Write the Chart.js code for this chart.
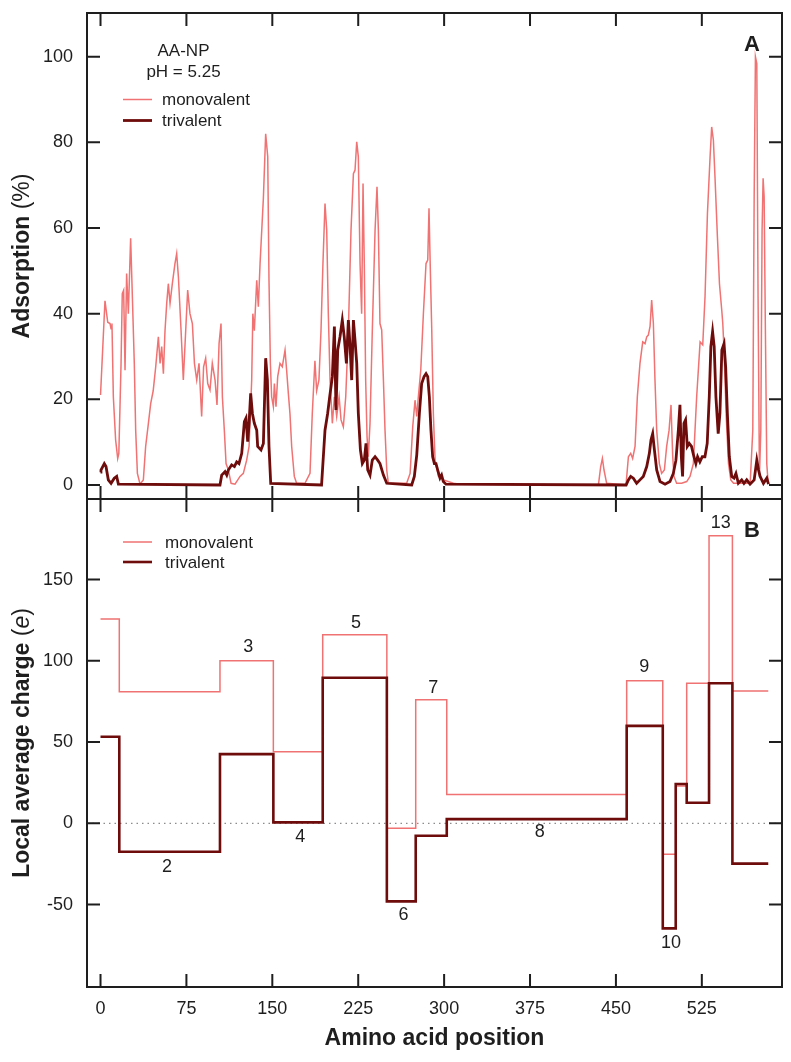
<!DOCTYPE html>
<html>
<head>
<meta charset="utf-8">
<script src="https://cdn.jsdelivr.net/npm/chart.js@4.4.1/dist/chart.umd.min.js"></script>
<style>
    html, body { margin: 0; padding: 0; background: #fff; }
    #wrap { position: relative; width: 791px; height: 1062px; }
    #wrap canvas { position: absolute; left: 0; }
    #chartA { top: 0; }
    #chartB { top: 490px; }
</style>
</head>
<body>
<div id="wrap">
    <canvas id="chartA" width="791" height="500"></canvas>
    <canvas id="chartB" width="791" height="572"></canvas>
</div>
<script>
// ----------------- Data -----------------
const xTicks = [0, 75, 150, 225, 300, 375, 450, 525];
const adsTicks = [0, 20, 40, 60, 80, 100];
const chargeTicks = [-50, 0, 50, 100, 150];

// Panel A: adsorption (%) along the sequence
const monoPos = [0, 3.9, 6.3, 8.3, 9.2, 10, 11.2, 13.2, 15, 16, 17.9, 19, 20.2, 21.4, 22.8, 24.3, 26.3, 27.8, 29.5, 30.7,
    32.2, 34.5, 37.4, 39.4, 41.8, 43.8, 46, 48.2, 50.5, 52, 53.4, 54.9, 56.3, 57.8, 59.2, 60.7, 62.7, 65, 66.5, 68,
    70.3, 72.3, 74.4, 76.1, 78.1, 80.2, 82, 84, 86, 88.3, 90, 91.8, 93.6, 95.6, 97.6, 100, 101.7, 103.5, 105.2, 106.4,
    108.1, 109.6, 111.6, 114, 117.4, 121.8, 124.7, 127.6, 129.7, 132, 133, 134.3, 136.4, 137.8, 139.3, 142.2, 144.2, 146, 147.1, 148.3,
    149.4, 150.9, 151.8, 153.2, 154.7, 156.7, 158.7, 161.1, 162.5, 164, 165.4, 166.9, 169.2, 171.2, 178.5, 182.9, 184.9, 187.2, 188.7, 190.7,
    192.5, 194.2, 196, 197.5, 198.9, 200.4, 202.4, 204.2, 206.2, 208.3, 210, 212, 214.1, 216.4, 218.7, 220.8, 222.2, 223.7, 225.1, 226.6,
    228, 229.2, 230.3, 231.5, 232.7, 233.8, 235.3, 237.3, 239.7, 241.4, 242.6, 244, 245.5, 247, 248.4, 249.9, 251.3, 267.3, 270.3, 272.6,
    274.6, 276.1, 277.5, 279.6, 281.9, 284.2, 285.7, 286.8, 287.7, 289.2, 290.6, 292.1, 295, 299.3, 308.1, 313.9, 434.7, 436.7, 438.2, 439.6,
    441.9, 458.8, 460.9, 462.9, 464.6, 466.7, 468.7, 471, 473.4, 475.4, 476.9, 478.3, 479.8, 481.2, 482.7, 484.1, 485.6, 487.9, 489.9, 492.3,
    494.3, 496.4, 498.1, 499.6, 500.7, 503, 507.4, 511.8, 514.7, 517.6, 520.5, 523.5, 525.8, 527.8, 529.9, 532.2, 533.6, 535.1, 536.6, 538.6,
    540.4, 542.4, 543.3, 544.4, 546.3, 548.3, 550.3, 552.7, 567.2, 569.5, 570.7, 571.8, 573, 574.1, 575.3, 576.5, 577.6, 578.5, 579.4, 580.5,
    581.7, 582.9];
const monoAds = [21, 43, 38, 37.7, 36.5, 37.7, 20.6, 10.5, 6.2, 7.4, 28, 44.7, 45.5, 26.8, 49.4, 40, 57.6, 44, 28.4, 12.8,
    2.7, 0.2, 1.2, 9, 14.4, 19, 22, 27.6, 34.6, 28.4, 32.3, 26, 36, 42.4, 47, 42.4, 47, 51.7, 54, 48.6,
    36.2, 24.5, 36.2, 45.5, 40, 37.7, 28.4, 24.5, 28.4, 16, 27.6, 29.6, 23.7, 22.2, 28.4, 24.5, 18.7, 33, 37.7, 20.6,
    12.8, 5, 3.5, 0.4, 0.2, 2, 2.7, 5.8, 9, 24.5, 40, 36, 47.8, 41.6, 51.7, 67, 82, 76.6, 47.8, 28.4,
    20.6, 18.3, 23.7, 18.3, 25.3, 28.4, 27.6, 31.5, 26.8, 21.4, 16.7, 9, 2, 0.4, 0.4, 2.7, 16.7, 29, 22, 24.5,
    36, 51.7, 65.7, 59.5, 40, 24.5, 14.4, 20.6, 16, 20.6, 15.2, 13.6, 20.6, 36, 59.5, 72.7, 73.5, 80.1, 76.6, 51.7,
    40, 70.4, 51.7, 24.5, 11.3, 6.6, 14.4, 36, 59.5, 69.6, 59.5, 37.7, 36.2, 24.5, 12.8, 3.5, 0.4, 0.4, 2.7, 13.6,
    19.8, 16, 20.6, 26.8, 40, 51.7, 52.5, 64.6, 53.3, 36.2, 16.7, 5.8, 2, 1.2, 0.4, 0.2, 0, 4.3, 6.2, 3.5,
    0.4, 0, 6.6, 7.4, 6.2, 9, 20.6, 28.4, 33.4, 33, 34.6, 35, 37, 43.2, 37.7, 24.5, 12.8, 5, 2.7, 3.5,
    9, 12.8, 18.7, 6.6, 2, 0.4, 0.4, 0.8, 2, 5, 20.6, 33.4, 32.7, 44, 63.4, 76.6, 83.6, 80.5, 71.2, 58,
    47, 40.8, 37.7, 31.5, 16, 5, 1.2, 0.4, 0.4, 12.8, 67.3, 100, 98.4, 44, 2, 12.8, 59.5, 71.6, 67.3, 36.2,
    5, 0.4];

const triPos = [0, 0.4, 3.3, 4.8, 6.8, 9.2, 12, 14.1, 15.6, 104.3, 105.8, 108.7, 110.2, 111.6, 114.5, 116.9, 118.9, 120.9, 123.3, 125.6,
    127, 128.5, 129.7, 131.1, 132.6, 134.3, 136.4, 137.2, 140.1, 142.2, 144.2, 145.7, 147.1, 148.6, 193, 196, 198.3, 200.1, 202.4, 204.2,
    205.6, 207.1, 209.1, 211.1, 212.8, 214.7, 216.4, 217.9, 219.3, 220.8, 222.2, 223.7, 225.1, 226.9, 228.6, 230.3, 231.8, 233.3, 235.3, 237.3,
    239.7, 242, 244, 247, 249.9, 271.7, 274, 276.1, 278.4, 280.4, 282.5, 284.2, 285.7, 287.1, 288.5, 290, 291.5, 292.9, 294.4, 296.4,
    297.8, 299.3, 301.6, 458.9, 460.9, 462.9, 465.2, 468.1, 471, 473.9, 476.9, 479.2, 480.6, 482.1, 483.6, 485.6, 488.5, 492.9, 497.2, 500.1,
    502.4, 504.5, 505.9, 507.1, 508.2, 509.4, 510.8, 512.3, 514, 516, 518.1, 519.8, 521.3, 523.3, 525.4, 527.7, 529.7, 531.5, 532.9, 534.4,
    535.8, 537.3, 539.3, 540.8, 542.5, 544.4, 545.8, 547.3, 549, 551.1, 553.1, 554.8, 556.9, 559.8, 561.8, 564.2, 567.1, 570.7, 573, 574.5,
    575.9, 578.8, 581.7, 583.2];
const triAds = [3, 3.5, 5, 4.3, 1.2, 0.4, 1.6, 2, 0.2, 0, 2.3, 3.1, 2.3, 3.5, 4.7, 4.3, 5.4, 5, 7.4, 14.8,
    15.6, 10.1, 14.4, 21.4, 16.7, 14.4, 12.8, 9, 8.2, 9.7, 29.6, 24.5, 9, 0.4, 0, 12.8, 16.7, 20.6, 25.3, 37,
    17.5, 31.5, 34.6, 38.5, 34.6, 28.4, 38.5, 32.3, 24.5, 38.5, 33.8, 28.4, 16.7, 8.2, 5, 5.8, 9.7, 3.5, 2.3, 5.8,
    6.6, 5.8, 5, 2.3, 0.4, 0, 2, 7, 16.7, 23.7, 25.3, 26, 25.3, 20.6, 12.8, 6.6, 5, 5, 3.5, 1.6,
    2.3, 0.8, 0.2, 0, 1.2, 2, 1.6, 0.4, 1.2, 2, 4.3, 7.4, 10.5, 12, 8.2, 3.5, 0.8, 0.2, 0.8, 2.7,
    5.8, 12.8, 18.7, 6.6, 2, 14.4, 15.2, 9, 9.7, 9, 6.6, 5, 6.6, 5.4, 6.6, 6.6, 9.7, 20.6, 32.3, 35.8,
    32.3, 20.6, 12, 16.7, 31.5, 33, 27.6, 16.7, 6.6, 2, 1.6, 2.7, 0.4, 1.2, 0.4, 1.2, 0.2, 1.2, 5.8, 3.5,
    2, 0.4, 1.6, 0.2];

// Panel B: local average charge per sequence segment
const segEdges = [0, 16.4, 104.3, 150.9, 194, 250, 275.2, 302.3, 459.4, 490.9, 502.2, 511.8, 531.3, 551.7, 583];
const monoCharge = [125.7, 81, 100, 44, 116, -3, 76, 17.8, 87.8, -19, 23, 86.2, 177, 81.4];
const triCharge = [53.3, -17.5, 42.6, 0.6, 89.6, -48, -7.6, 2.6, 60, -64.6, 24.2, 12.7, 86.2, -24.8];

const segLabels = ['2', '3', '4', '5', '6', '7', '8', '9', '10', '13'];
const segLabelX = [58, 129, 174.4, 223, 264.6, 290.6, 383.5, 474.8, 498, 541.5];
const segLabelY = [-26.7, 108.7, -8.2, 123.4, -56.4, 83, -5.2, 96, -73.8, 185];

// ----------------- Styling -----------------
const FONT = '"Liberation Sans", Arial, Helvetica, sans-serif';
const MONO_COLOR = '#f07272';
const TRI_COLOR = '#6e0b0b';
const INK = '#1e1e1e';
const TICK_LEN = 13;

function toPoints(xs, ys) {
    return xs.map((x, i) => ({ x: x, y: ys[i] }));
}

// step profile: value i holds from edge i to edge i+1
function toSteps(edges, vals) {
    const pts = vals.map((v, i) => ({ x: edges[i], y: v }));
    pts.push({ x: edges[edges.length - 1], y: vals[vals.length - 1] });
    return pts;
}

// write pieces of text in different fonts one after another, centred on (cx, cy)
function drawMixed(ctx, parts, cx, cy, rotate) {
    ctx.save();
    ctx.translate(cx, cy);
    if (rotate) ctx.rotate(-Math.PI / 2);
    let total = 0;
    parts.forEach(p => {
        ctx.font = p.font;
        p.w = ctx.measureText(p.text).width;
        total += p.w;
    });
    let x = -total / 2;
    ctx.textAlign = 'left';
    ctx.textBaseline = 'alphabetic';
    ctx.fillStyle = INK;
    parts.forEach(p => {
        ctx.font = p.font;
        ctx.fillText(p.text, x, 0);
        x += p.w;
    });
    ctx.restore();
}

// frame, inward ticks, axis titles, legend and notes
const panelDecor = {
    id: 'panelDecor',
    beforeDatasetsDraw(chart, args, opts) {
        if (!opts.zeroLine) return;
        const { ctx, chartArea: a, scales: { y } } = chart;
        const py = y.getPixelForValue(0);
        ctx.save();
        ctx.strokeStyle = '#8c8c8c';
        ctx.lineWidth = 1.3;
        ctx.setLineDash([1.5, 4]);
        ctx.beginPath();
        ctx.moveTo(a.left, py);
        ctx.lineTo(a.right, py);
        ctx.stroke();
        ctx.restore();
    },
    afterDraw(chart, args, opts) {
        const { ctx, chartArea: a, scales: { x, y } } = chart;
        ctx.save();
        ctx.strokeStyle = INK;
        ctx.lineWidth = 2;
        ctx.strokeRect(a.left, a.top, a.width, a.height);

        ctx.beginPath();
        xTicks.forEach(v => {
            const px = x.getPixelForValue(v);
            ctx.moveTo(px, a.top);
            ctx.lineTo(px, a.top + TICK_LEN);
            ctx.moveTo(px, a.bottom);
            ctx.lineTo(px, a.bottom - TICK_LEN);
        });
        opts.yTicks.forEach(v => {
            const py = y.getPixelForValue(v);
            ctx.moveTo(a.left, py);
            ctx.lineTo(a.left + TICK_LEN, py);
            ctx.moveTo(a.right, py);
            ctx.lineTo(a.right - TICK_LEN, py);
        });
        ctx.stroke();

        // y axis title
        drawMixed(ctx, opts.yTitle, 29, (a.top + a.bottom) / 2, true);

        // x axis title (bottom panel only)
        if (opts.xTitle) {
            drawMixed(ctx, [{ text: opts.xTitle, font: 'bold 23px ' + FONT }], (a.left + a.right) / 2, a.bottom + 58, false);
        }

        // panel letter
        ctx.fillStyle = INK;
        ctx.font = 'bold 22px ' + FONT;
        ctx.textAlign = 'center';
        ctx.textBaseline = 'middle';
        ctx.fillText(opts.letter, a.right - 30, a.top + 32);

        // header lines
        ctx.font = '17px ' + FONT;
        ctx.textBaseline = 'alphabetic';
        (opts.header || []).forEach((t, i) => {
            ctx.fillText(t, a.left + 96.5, a.top + 43 + i * 20.7);
        });

        // legend
        ctx.textAlign = 'left';
        ctx.textBaseline = 'middle';
        chart.data.datasets.forEach((ds, i) => {
            const ly = a.top + opts.legendTop + i * opts.legendGap;
            ctx.strokeStyle = ds.borderColor;
            ctx.lineWidth = ds.borderWidth;
            ctx.beginPath();
            ctx.moveTo(a.left + 36, ly);
            ctx.lineTo(a.left + 65, ly);
            ctx.stroke();
            ctx.fillStyle = INK;
            ctx.fillText(ds.label, a.left + opts.legendText, ly + 1);
        });

        // segment numbers
        if (opts.notes) {
            ctx.textAlign = 'center';
            ctx.font = '18px ' + FONT;
            opts.notes.text.forEach((t, i) => {
                ctx.fillText(t, x.getPixelForValue(opts.notes.x[i]), y.getPixelForValue(opts.notes.y[i]));
            });
        }
        ctx.restore();
    }
};

function yScale(min, max, ticks) {
    return {
        type: 'linear',
        min: min,
        max: max,
        afterBuildTicks: s => { s.ticks = ticks.map(v => ({ value: v })); },
        afterFit: s => {
            s.width = 87;
            s.paddingTop = 0;
            s.paddingBottom = 0;
        },
        grid: { display: false, drawTicks: false },
        border: { display: false },
        ticks: { padding: 14, color: INK, font: { family: FONT, size: 18 } }
    };
}

function xScale(show) {
    return {
        type: 'linear',
        min: -11.8,
        max: 595,
        display: show,
        afterBuildTicks: s => { s.ticks = xTicks.map(v => ({ value: v })); },
        afterFit: s => {
            s.height = show ? 75 : 0;
            s.paddingLeft = 0;
            s.paddingRight = 0;
        },
        grid: { display: false, drawTicks: false },
        border: { display: false },
        ticks: { padding: 11, maxRotation: 0, color: INK, font: { family: FONT, size: 18 } }
    };
}

const common = {
    responsive: false,
    devicePixelRatio: 1,
    animation: false,
    events: [],
    elements: { point: { radius: 0 }, line: { tension: 0 } }
};

// ----------------- Panel A -----------------
new Chart(document.getElementById('chartA').getContext('2d'), {
    type: 'line',
    data: {
        datasets: [
            { label: 'monovalent', data: toPoints(monoPos, monoAds), borderColor: MONO_COLOR, borderWidth: 1.5, order: 1 },
            { label: 'trivalent', data: toPoints(triPos, triAds), borderColor: TRI_COLOR, borderWidth: 2.8, order: 0 }
        ]
    },
    options: {
        ...common,
        layout: { padding: { left: 0, right: 9, top: 13, bottom: 1 } },
        scales: { x: xScale(false), y: yScale(-3.27, 110.2, adsTicks) },
        plugins: {
            legend: { display: false },
            tooltip: { enabled: false },
            panelDecor: {
                yTicks: adsTicks,
                yTitle: [{ text: 'Adsorption', font: 'bold 23px ' + FONT }, { text: ' (%)', font: '23px ' + FONT }],
                letter: 'A',
                header: ['AA-NP', 'pH = 5.25'],
                legendTop: 86.5,
                legendGap: 21,
                legendText: 75
            }
        }
    },
    plugins: [panelDecor]
});

// ----------------- Panel B -----------------
new Chart(document.getElementById('chartB').getContext('2d'), {
    type: 'line',
    data: {
        datasets: [
            { label: 'monovalent', data: toSteps(segEdges, monoCharge), stepped: true, borderColor: MONO_COLOR, borderWidth: 1.5, order: 1 },
            { label: 'trivalent', data: toSteps(segEdges, triCharge), stepped: true, borderColor: TRI_COLOR, borderWidth: 2.6, order: 0 }
        ]
    },
    options: {
        ...common,
        layout: { padding: { left: 0, right: 9, top: 9, bottom: 0 } },
        scales: { x: xScale(true), y: yScale(-100.7, 199.6, chargeTicks) },
        plugins: {
            legend: { display: false },
            tooltip: { enabled: false },
            panelDecor: {
                yTicks: chargeTicks,
                yTitle: [
                    { text: 'Local average charge', font: 'bold 23px ' + FONT },
                    { text: ' (', font: '23px ' + FONT },
                    { text: 'e', font: 'italic 23px ' + FONT },
                    { text: ')', font: '23px ' + FONT }
                ],
                xTitle: 'Amino acid position',
                letter: 'B',
                zeroLine: true,
                legendTop: 43,
                legendGap: 20,
                legendText: 78,
                notes: { text: segLabels, x: segLabelX, y: segLabelY }
            }
        }
    },
    plugins: [panelDecor]
});
</script>
</body>
</html>
